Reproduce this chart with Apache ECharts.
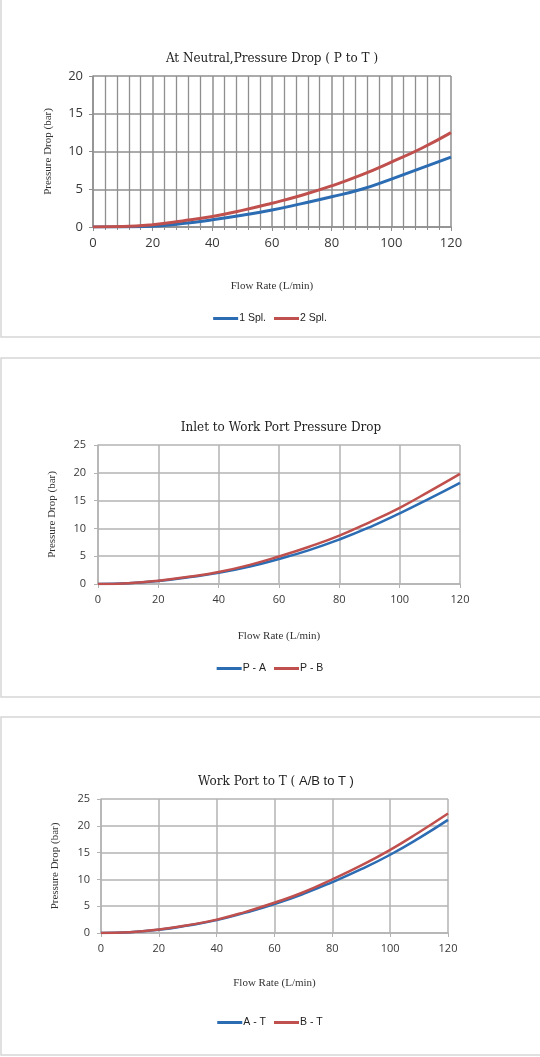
<!DOCTYPE html>
<html>
<head>
    <meta charset="utf-8">
    <title>Pressure Drop</title>
    <script src="https://cdn.jsdelivr.net/npm/echarts@6/dist/echarts.min.js"></script>
    <style>
        html, body { margin: 0; padding: 0; background: #fff; }
        #main { width: 540px; height: 1057px; }
    </style>
</head>
<body>
    <div id="main"></div>

    <script>
        // flow rate (L/min)
        var flow = [0, 10, 20, 30, 40, 50, 60, 70, 80, 90, 100, 110, 120];

        // pressure drop (bar)
        var spl1 = [0, 0, 0.1, 0.45, 0.95, 1.55, 2.25, 3.1, 4.0, 5.0, 6.35, 7.8, 9.25];
        var spl2 = [0, 0.05, 0.3, 0.8, 1.4, 2.2, 3.15, 4.2, 5.45, 6.9, 8.6, 10.4, 12.5];

        var pA = [0, 0.15, 0.55, 1.2, 2.0, 3.1, 4.5, 6.1, 8.0, 10.2, 12.7, 15.4, 18.2];
        var pB = [0, 0.15, 0.6, 1.3, 2.15, 3.4, 4.95, 6.7, 8.7, 11.1, 13.7, 16.7, 19.8];

        var aT = [0, 0.15, 0.6, 1.4, 2.4, 3.8, 5.4, 7.3, 9.5, 11.9, 14.6, 17.7, 21.1];
        var bT = [0, 0.15, 0.65, 1.45, 2.5, 3.95, 5.65, 7.6, 10.0, 12.6, 15.5, 18.8, 22.3];

        var blue = '#2b6cb3';
        var red = '#c0504d';
        var serif = '"Liberation Serif", "DejaVu Serif", serif';
        var wideSerif = '"DejaVu Serif", serif';
        var sans = '"Liberation Sans", Arial, sans-serif';

        function pairs(ys) {
            return flow.map(function(x, i) { return [x, ys[i]]; });
        }

        function xAxisFor(idx, opts) {
            return {
                type: 'value', gridIndex: idx, min: 0, max: 120, interval: 20,
                name: 'Flow Rate (L/min)', nameLocation: 'middle', nameGap: opts.nameGap,
                nameTextStyle: { fontFamily: serif, fontSize: 11, color: '#333' },
                axisLine: { lineStyle: { color: opts.grid, width: 1.5 } },
                axisTick: { show: true, length: 4, lineStyle: { color: opts.grid } },
                axisLabel: { margin: opts.labelMargin, fontFamily: '"Open Sans", sans-serif', fontSize: opts.labelSize, color: '#383838' },
                splitLine: { show: true, lineStyle: { color: opts.grid, width: 1.5 } },
                minorTick: { show: opts.minor, splitNumber: 5, length: 3, lineStyle: { color: opts.grid } },
                minorSplitLine: { show: opts.minor, lineStyle: { color: opts.grid, width: 1.3 } }
            };
        }

        function yAxisFor(idx, max, opts) {
            return {
                type: 'value', gridIndex: idx, min: 0, max: max, interval: 5,
                name: 'Pressure Drop (bar)', nameLocation: 'middle', nameGap: opts.nameGap, nameRotate: 90,
                nameTextStyle: { fontFamily: serif, fontSize: 11, color: '#333' },
                axisLine: { show: true, lineStyle: { color: opts.grid, width: 1.5 } },
                axisTick: { show: true, length: 4, lineStyle: { color: opts.grid } },
                axisLabel: { margin: opts.labelMargin, fontFamily: '"Open Sans", sans-serif', fontSize: opts.labelSize, color: '#383838' },
                splitLine: { show: true, lineStyle: { color: opts.grid, width: 1.5 } }
            };
        }

        function lineSeries(name, idx, ys, color, width) {
            return {
                name: name, type: 'line', xAxisIndex: idx, yAxisIndex: idx,
                data: pairs(ys), smooth: true, showSymbol: false,
                lineStyle: { color: color, width: width }, itemStyle: { color: color }
            };
        }

        function box(top, height) {
            return {
                type: 'rect', silent: true,
                shape: { x: 1, y: top, width: 560, height: height },
                style: { fill: 'none', stroke: '#d6d6d6', lineWidth: 1.5 }
            };
        }

        var titleStyle = { fontFamily: wideSerif, fontSize: 12, fontWeight: 'normal', color: '#222' };

        var legendBase = {
            icon: 'rect', itemWidth: 25, itemHeight: 3, itemGap: 8,
            textStyle: { fontFamily: sans, fontSize: 10.5, color: '#222', padding: [0, 0, 0, -4] }
        };

        var chart = echarts.init(document.getElementById('main'));
        chart.setOption({
            animation: false,
            backgroundColor: '#fff',
            graphic: [box(-3, 340), box(358, 339), box(717, 338)],
            title: [
                { text: 'At Neutral,Pressure Drop ( P to T )', left: 267, textAlign: 'center', top: 48,
                  textStyle: titleStyle },
                { text: 'Inlet to Work Port Pressure Drop', left: 276, textAlign: 'center', top: 417,
                  textStyle: titleStyle },
                { text: '{s|Work Port to T ( }{a|A/B to T )}', left: 271, textAlign: 'center', top: 770,
                  textStyle: { rich: {
                      s: { fontFamily: wideSerif, fontSize: 12, fontWeight: 'normal', color: '#222' },
                      a: { fontFamily: sans, fontSize: 13, fontWeight: 'normal', color: '#222' }
                  } } }
            ],
            legend: [
                Object.assign({ data: ['1 Spl.', '2 Spl.'], top: 308, left: 'center' }, legendBase),
                Object.assign({ data: ['P - A', 'P - B'], top: 658, left: 'center' }, legendBase),
                Object.assign({ data: ['A - T', 'B - T'], top: 1012, left: 'center' }, legendBase)
            ],
            grid: [
                { left: 93, right: 89, top: 76, height: 151 },
                { left: 98, right: 80, top: 445, height: 139 },
                { left: 101, right: 92, top: 799, height: 134 }
            ],
            xAxis: [
                xAxisFor(0, { grid: '#8f8f8f', minor: true, labelSize: 13, labelMargin: 10, nameGap: 54 }),
                xAxisFor(1, { grid: '#b3b3b3', minor: false, labelSize: 11, labelMargin: 10, nameGap: 47 }),
                xAxisFor(2, { grid: '#b3b3b3', minor: false, labelSize: 11, labelMargin: 10, nameGap: 45 })
            ],
            yAxis: [
                yAxisFor(0, 20, { grid: '#8f8f8f', labelSize: 13, labelMargin: 10, nameGap: 39 }),
                yAxisFor(1, 25, { grid: '#b3b3b3', labelSize: 11, labelMargin: 12, nameGap: 40 }),
                yAxisFor(2, 25, { grid: '#b3b3b3', labelSize: 11, labelMargin: 11, nameGap: 40 })
            ],
            series: [
                lineSeries('1 Spl.', 0, spl1, blue, 3),
                lineSeries('2 Spl.', 0, spl2, red, 3),
                lineSeries('P - A', 1, pA, blue, 2.5),
                lineSeries('P - B', 1, pB, red, 2.5),
                lineSeries('A - T', 2, aT, blue, 2.5),
                lineSeries('B - T', 2, bT, red, 2.5)
            ]
        });
    </script>
</body>
</html>
